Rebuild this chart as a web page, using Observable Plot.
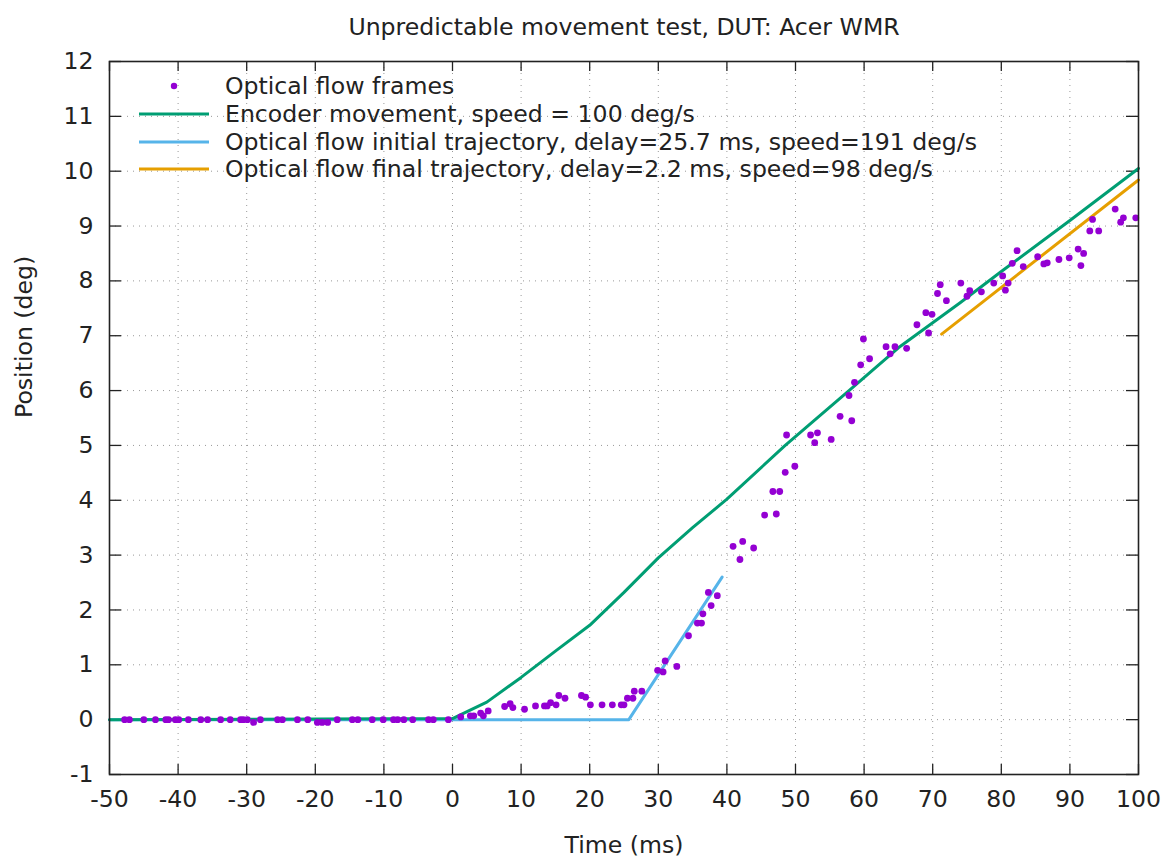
<!DOCTYPE html>
<html>
<head>
<meta charset="utf-8">
<script src="https://cdn.jsdelivr.net/npm/d3@7"></script>
<script src="https://cdn.jsdelivr.net/npm/@observablehq/plot@0.6"></script>
<style>
  html, body { margin: 0; padding: 0; background: #fff; }
  #chart svg { display: block; }
</style>
</head>
<body>
<div id="chart"></div>
<script>
// ---- data ----
const titleText = "Unpredictable movement test, DUT: Acer WMR";
const xLabel = "Time (ms)";
const yLabel = "Position (deg)";
const xTicks = [-50, -40, -30, -20, -10, 0, 10, 20, 30, 40, 50, 60, 70, 80, 90, 100];
const yTicks = [-1, 0, 1, 2, 3, 4, 5, 6, 7, 8, 9, 10, 11, 12];

// Optical flow frames (time ms, position deg)
const frameT = [-47.8, -47.1, -45.0, -43.3, -41.8, -41.4, -40.4, -39.9, -38.5, -36.7, -35.7, -33.8, -32.4,
  -30.9, -30.5, -29.9, -29.0, -28.0, -25.5, -24.8, -22.6, -21.1, -19.7, -19.0, -18.2, -16.8, -14.6,
  -13.8, -11.7, -10.1, -8.6, -8.0, -7.1, -5.8, -3.5, -2.8, -0.6,
  1.2, 2.6, 3.1, 4.1, 4.5, 5.2, 7.6, 8.4, 8.8, 10.5, 12.1, 13.4, 13.8, 14.3, 15.1, 15.5, 16.4,
  18.8, 19.4, 20.1, 21.8, 23.3, 24.6, 25.0, 25.5, 26.3, 26.5, 27.6, 29.9, 30.7, 31.0, 32.7, 34.4,
  35.7, 36.3, 36.5, 37.7, 37.3, 38.6,
  40.9, 41.9, 42.3, 43.9, 45.5, 47.2, 46.7, 47.7, 48.5, 49.9, 48.7, 52.2, 53.2, 52.8, 55.2, 56.5,
  58.2, 57.8, 58.6, 59.5, 60.8, 59.9, 63.2, 64.5, 63.8, 66.2, 67.7, 69.0, 69.9, 69.4, 70.7, 71.1,
  72.0, 74.1, 75.0, 75.4, 77.1, 78.9, 80.2, 80.6, 81.0, 81.6, 82.3, 83.2, 85.3, 86.2, 86.7, 88.4,
  89.9, 91.2, 92.0, 91.6, 92.9, 94.2, 93.3, 96.6, 97.4, 97.8, 99.6];
const frameY = [0, 0, 0, 0, 0, 0, 0, 0, 0, 0, 0, 0, 0,
  0, 0, 0, -0.05, 0, 0, 0, 0, 0, -0.05, -0.05, -0.05, 0, 0,
  0, 0, 0, 0, 0, 0, 0, 0, 0, 0,
  0.05, 0.07, 0.07, 0.12, 0.07, 0.16, 0.24, 0.29, 0.22, 0.19, 0.25, 0.25, 0.25, 0.31, 0.27, 0.44, 0.39,
  0.44, 0.41, 0.27, 0.27, 0.27, 0.27, 0.27, 0.39, 0.39, 0.52, 0.52, 0.90, 0.87, 1.07, 0.97, 1.53,
  1.76, 1.76, 1.93, 2.08, 2.32, 2.26,
  3.16, 2.92, 3.25, 3.13, 3.73, 3.75, 4.16, 4.16, 4.51, 4.62, 5.19, 5.19, 5.23, 5.05, 5.11, 5.53,
  5.45, 5.91, 6.15, 6.47, 6.58, 6.94, 6.80, 6.80, 6.67, 6.77, 7.20, 7.42, 7.39, 7.05, 7.77, 7.93,
  7.64, 7.96, 7.72, 7.82, 7.80, 7.96, 8.09, 7.83, 7.96, 8.32, 8.55, 8.26, 8.44, 8.31, 8.33, 8.39,
  8.42, 8.58, 8.50, 8.28, 8.91, 8.91, 9.12, 9.31, 9.07, 9.15, 9.15];

// Encoder movement
const encT = [-50, 0, 5, 10, 15, 20, 25, 30, 35, 40, 48.5, 57.8, 65, 74, 80, 90, 100];
const encY = [0, 0.02, 0.32, 0.77, 1.25, 1.72, 2.32, 2.95, 3.5, 4.02, 5.0, 6.0, 6.78, 7.6, 8.17, 9.1, 10.05];

// Optical flow initial trajectory
const initT = [-50, 25.7, 39.3];
const initY = [0, 0, 2.6];

// Optical flow final trajectory
const finalT = [71.3, 100];
const finalY = [7.03, 9.84];

const legendLabels = [
  "Optical flow frames",
  "Encoder movement, speed = 100 deg/s",
  "Optical flow initial trajectory, delay=25.7 ms, speed=191 deg/s",
  "Optical flow final trajectory, delay=2.2 ms, speed=98 deg/s"
];
const colors = ["#9400d3", "#009e73", "#56b4e9", "#e69f00"];

// ---- build tables ----
const frames = frameT.map((t, i) => ({t, y: frameY[i]}));
const enc = encT.map((t, i) => ({t, y: encY[i]}));
const init = initT.map((t, i) => ({t, y: initY[i]}));
const fin = finalT.map((t, i) => ({t, y: finalY[i]}));

const W = 1172, H = 859;
const mL = 109, mR = 34, mT = 61, mB = 85;
const innerH = H - mT - mB;
const innerW = W - mL - mR;
const font = "DejaVu Sans, sans-serif";
const fs = 23.6;

const chart = Plot.plot({
  width: W,
  height: H,
  marginLeft: mL,
  marginRight: mR,
  marginTop: mT,
  marginBottom: mB,
  style: {fontFamily: font, fontSize: fs + "px", color: "#222", background: "#fff"},
  x: {domain: [-50, 100], ticks: xTicks},
  y: {domain: [-1, 12], ticks: yTicks},
  marks: [
    // dotted grid
    Plot.ruleX(xTicks.slice(1, -1), {stroke: "#999", strokeWidth: 1, strokeDasharray: "1,5"}),
    Plot.ruleY(yTicks.slice(1, -1), {stroke: "#999", strokeWidth: 1, strokeDasharray: "1,5"}),
    // axes labels (ticks drawn separately, inward)
    Plot.axisX(xTicks, {tickSize: 0, tickPadding: 16, fontSize: fs, label: null, tickFormat: d => String(d)}),
    Plot.axisY(yTicks, {tickSize: 0, tickPadding: 16, fontSize: fs, label: null, tickFormat: d => String(d)}),
    // inward ticks on all four sides
    Plot.tickX(xTicks, {x: d => d, insetTop: innerH - 10, stroke: "#222", strokeWidth: 1.3}),
    Plot.tickX(xTicks, {x: d => d, insetBottom: innerH - 10, stroke: "#222", strokeWidth: 1.3}),
    Plot.tickY(yTicks, {y: d => d, insetRight: innerW - 12, stroke: "#222", strokeWidth: 1.3}),
    Plot.tickY(yTicks, {y: d => d, insetLeft: innerW - 12, stroke: "#222", strokeWidth: 1.3}),
    // data
    Plot.line(init, {x: "t", y: "y", stroke: colors[2], strokeWidth: 3}),
    Plot.line(enc, {x: "t", y: "y", stroke: colors[1], strokeWidth: 3, curve: "linear"}),
    Plot.line(fin, {x: "t", y: "y", stroke: colors[3], strokeWidth: 3}),
    Plot.dot(frames, {x: "t", y: "y", r: 3.4, fill: colors[0], stroke: "none"}),
    Plot.frame({stroke: "#222", strokeWidth: 1.6}),
    // title and axis titles
    Plot.text([titleText], {frameAnchor: "top", dy: -43, fontSize: fs, fill: "#222"}),
    Plot.text([xLabel], {frameAnchor: "bottom", dy: 78, fontSize: fs, fill: "#222"}),
    Plot.text([yLabel], {frameAnchor: "left", dx: -85, rotate: -90, fontSize: fs, fill: "#222"})
  ]
});

// legend inside the plot, top-left
const svg = d3.select(chart);
const lg = svg.append("g").attr("font-family", font).attr("font-size", fs)
  .attr("fill", "#222").attr("text-anchor", "start");
const rowY = [86, 114, 142, 169];
legendLabels.forEach((label, i) => {
  const yy = rowY[i];
  if (i === 0) {
    lg.append("circle").attr("cx", 174).attr("cy", yy).attr("r", 3.2).attr("fill", colors[0]);
  } else {
    lg.append("line").attr("x1", 139).attr("x2", 209).attr("y1", yy).attr("y2", yy)
      .attr("stroke", colors[i]).attr("stroke-width", 3);
  }
  lg.append("text").attr("x", 225).attr("y", yy).attr("dy", "0.35em").attr("text-anchor", "start").text(label);
});

document.getElementById("chart").appendChild(chart);
</script>
</body>
</html>
